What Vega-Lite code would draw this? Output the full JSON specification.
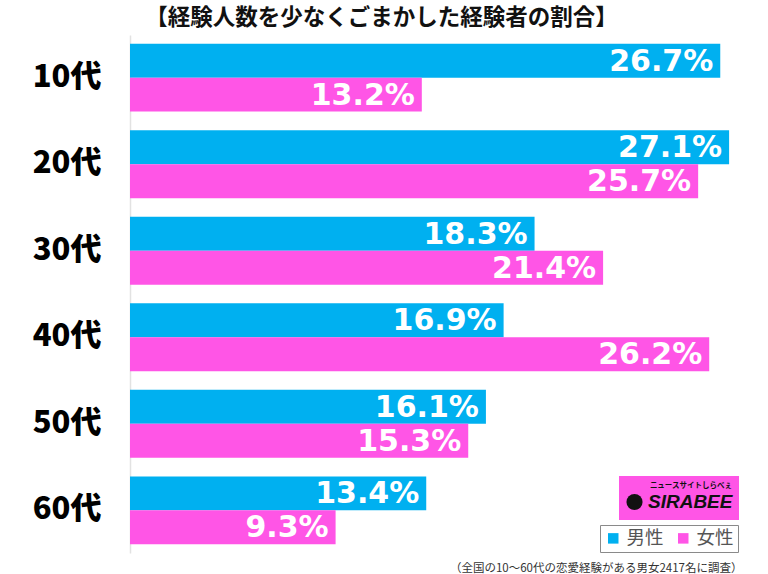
{
  "$schema": "https://vega.github.io/schema/vega-lite/v6.json",
  "width": 619,
  "height": 518,
  "autosize": "none",
  "padding": {"left": 130, "top": 35, "right": 19, "bottom": 21},
  "background": "white",
  "title": {
    "text": "【経験人数を少なくごまかした経験者の割合】",
    "font": "Noto Sans CJK JP",
    "fontSize": 22.5,
    "fontWeight": "bold",
    "color": "#111",
    "anchor": "middle",
    "frame": "group",
    "dx": -58,
    "offset": 3
  },
  "datasets": {
    "survey": [
      {"age": "10代", "sex": "男性", "pct": 26.7},
      {"age": "10代", "sex": "女性", "pct": 13.2},
      {"age": "20代", "sex": "男性", "pct": 27.1},
      {"age": "20代", "sex": "女性", "pct": 25.7},
      {"age": "30代", "sex": "男性", "pct": 18.3},
      {"age": "30代", "sex": "女性", "pct": 21.4},
      {"age": "40代", "sex": "男性", "pct": 16.9},
      {"age": "40代", "sex": "女性", "pct": 26.2},
      {"age": "50代", "sex": "男性", "pct": 16.1},
      {"age": "50代", "sex": "女性", "pct": 15.3},
      {"age": "60代", "sex": "男性", "pct": 13.4},
      {"age": "60代", "sex": "女性", "pct": 9.3}
    ],
    "brand": [
      {"site": "SIRABEE", "pct": 0}
    ]
  },
  "encoding": {
    "y": {
      "field": "age",
      "type": "nominal",
      "sort": ["10代", "20代", "30代", "40代", "50代", "60代"],
      "scale": {"paddingInner": 0.215, "paddingOuter": 0.1},
      "axis": {
        "title": null,
        "ticks": false,
        "domainColor": "#e2e2e2",
        "domainWidth": 1.5,
        "labelFont": "Noto Sans CJK JP",
        "labelFontSize": 31,
        "labelFontWeight": 900,
        "labelColor": "#000",
        "labelPadding": 29
      }
    },
    "x": {
      "field": "pct",
      "type": "quantitative",
      "scale": {"domain": [0, 28], "nice": false},
      "axis": {
        "labels": false,
        "ticks": false,
        "domain": false,
        "grid": false,
        "title": "（全国の10〜60代の恋愛経験がある男女2417名に調査）",
        "titleFont": "Noto Sans CJK JP",
        "titleFontSize": 11.5,
        "titleFontWeight": "normal",
        "titleColor": "#333",
        "titleAlign": "right",
        "titleBaseline": "alphabetic",
        "titleX": 612,
        "titleY": 18
      }
    }
  },
  "layer": [
    {
      "data": {"name": "survey"},
      "mark": {"type": "bar"},
      "encoding": {
        "yOffset": {"field": "sex", "type": "nominal", "sort": ["男性", "女性"]},
        "color": {
          "field": "sex",
          "type": "nominal",
          "scale": {"domain": ["男性", "女性"], "range": ["#00b0f0", "#ff55e6"]},
          "legend": {
            "orient": "none",
            "legendX": 470,
            "legendY": 490,
            "direction": "horizontal",
            "title": null,
            "symbolType": "square",
            "symbolSize": 110,
            "symbolStrokeWidth": 0,
            "labelFont": "Noto Sans CJK JP",
            "labelFontSize": 18.5,
            "labelColor": "#555",
            "columnPadding": 10,
            "strokeColor": "#8a8a8a",
            "padding": 4
          }
        }
      }
    },
    {
      "data": {"name": "survey"},
      "transform": [
        {"calculate": "format(datum.pct, '.1f') + '%'", "as": "label"}
      ],
      "mark": {
        "type": "text",
        "align": "right",
        "baseline": "middle",
        "dx": -7,
        "dy": 1,
        "font": "DejaVu Sans",
        "fontSize": 30,
        "fontWeight": "bold",
        "color": "white"
      },
      "encoding": {
        "yOffset": {"field": "sex", "type": "nominal", "sort": ["男性", "女性"]},
        "text": {"field": "label", "type": "nominal"}
      }
    },
    {
      "data": {"name": "brand"},
      "mark": {"type": "point", "opacity": 0, "filled": true, "color": "#111"},
      "encoding": {
        "y": {"value": 0},
        "shape": {
          "field": "site",
          "type": "nominal",
          "scale": {"domain": ["SIRABEE"], "range": ["circle"]},
          "legend": {
            "orient": "none",
            "legendX": 489,
            "legendY": 441,
            "title": "ニュースサイトしらべぇ",
            "titleFont": "Noto Sans CJK JP",
            "titleFontSize": 7.5,
            "titleFontWeight": "bold",
            "titleColor": "#111",
            "titleAnchor": "end",
            "titlePadding": 3,
            "labelFont": "Liberation Sans",
            "labelFontSize": 19,
            "labelFontWeight": "bold",
            "labelFontStyle": "italic",
            "labelColor": "#111",
            "labelOffset": 4,
            "symbolType": "circle",
            "symbolSize": 260,
            "symbolFillColor": "#111",
            "symbolStrokeColor": "#111",
            "symbolOpacity": 1,
            "fillColor": "#ff55e6",
            "padding": 6
          }
        }
      }
    }
  ],
  "config": {
    "view": {"stroke": null}
  }
}
